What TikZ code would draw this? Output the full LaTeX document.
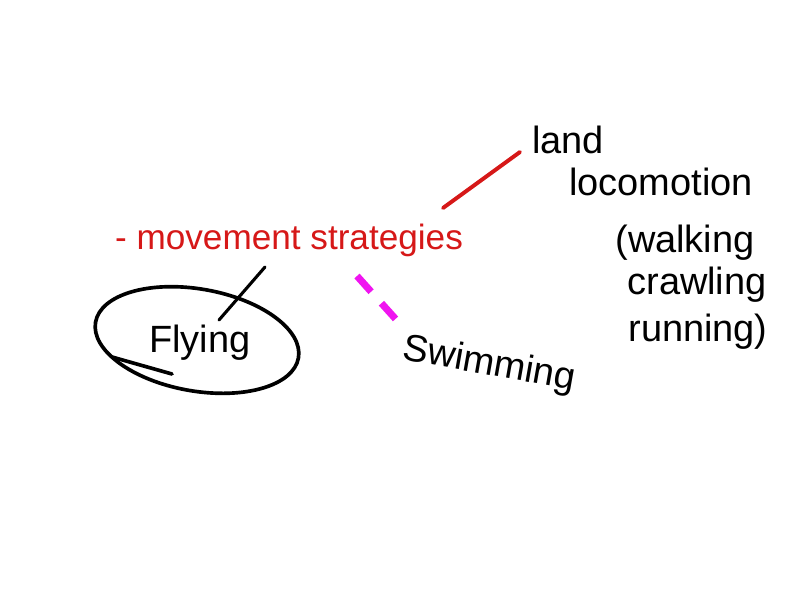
\documentclass[tikz,border=0pt]{standalone}
\usepackage{fontspec}
\setmainfont{Liberation Sans}
\usepackage{tikz}
\definecolor{inkred}{RGB}{214,24,24}
\definecolor{inkpink}{RGB}{240,20,240}

\begin{document}
\begin{tikzpicture}[x=0.025cm,y=-0.025cm,
        hand/.style={font=\fontsize{27}{30}\selectfont, inner sep=0pt},
        stroke/.style={line width=2.6pt, line cap=round}]
        % Page
        \useasboundingbox[fill=white] (0,0) rectangle (800,600);

        % Main topic
        \node[text=inkred, font=\fontsize{25}{28}\selectfont, inner sep=0pt] (topic) at (289,240) {- movement strategies};

        % Land locomotion
        \node[hand] (land) at (568,140) {land};
        \node[hand] (loco) at (661,182) {locomotion};
        \node[hand] (walk) at (685,243) {(walking};
        \node[hand] (crawl) at (697,285) {crawling};
        \node[hand] (run) at (698,332) {running)};
        \coordinate (redA) at (443,208);
        \coordinate (redB) at (520,152);
        \draw[stroke, inkred, line width=2.8pt] (redA) -- (redB);

        % Swimming
        \node[hand, rotate=-10] (swim) at (489,365) {Swimming};
        \coordinate (pinkA) at (357,276);
        \coordinate (pinkB) at (401,325);
        \draw[inkpink, line width=5pt, dash pattern=on 15pt off 11pt] (pinkA) -- (pinkB);

        % Flying
        \node[hand] (fly) at (200,343) {Flying};
        \draw[stroke] (197,340) ellipse [x radius=103, y radius=51, rotate=-10];
        \coordinate (tailA) at (112,357);
        \coordinate (tailB) at (172,374);
        \draw[stroke] (tailA) -- (tailB);
        \coordinate (blackA) at (265,267);
        \coordinate (blackB) at (219,320);
        \draw[stroke, line width=2.2pt] (blackA) -- (blackB);
\end{tikzpicture}
\end{document}
